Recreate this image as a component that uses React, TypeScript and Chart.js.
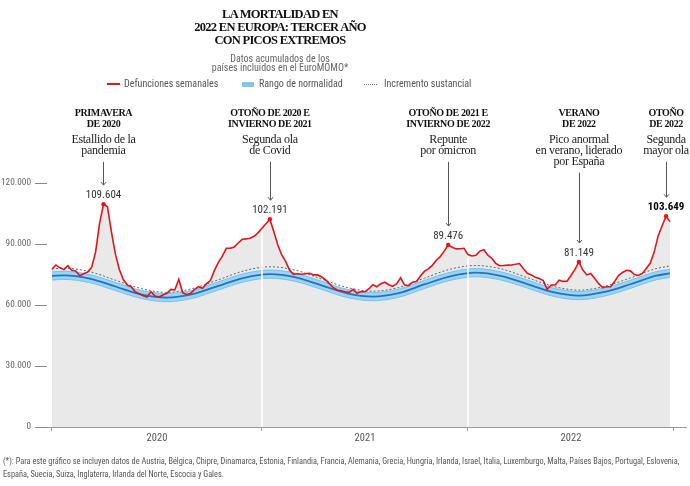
import React, { useEffect, useRef } from 'react';
import { Chart, registerables } from 'chart.js';

Chart.register(...registerables);

// ---------- DATA ----------
const weeklyDeaths = [
  77700, 79700, 78300, 77400, 79300, 77100, 76700, 74400, 75400, 76200,
  78500, 86000, 100000, 109604, 108300, 96000, 85000, 77500, 72500, 69800,
  69000, 66500, 65500, 64500, 63900, 66500, 64400, 63900, 64900, 65700,
  67700, 67400, 72600, 66000, 65200, 65700, 67700, 69000, 68200, 70500,
  72000, 77000, 81000, 84000, 87900, 87900, 88500, 90500, 92300, 92500,
  92800, 93800, 95500, 97700, 100000, 102191, 96000, 89500, 84600, 81300,
  77000, 75100, 75400, 75100, 75400, 75600, 74800, 74800, 73900, 72500,
  70500, 68500, 67400, 67000, 66500, 66200, 67700, 65700, 66600, 66500,
  68000, 70000, 69000, 70500, 71200, 70000, 69200, 70500, 73400, 69800,
  69500, 71200, 71600, 74300, 76500, 77800, 79500, 82000, 83800, 86500,
  89476, 88400, 87600, 87700, 87900, 84800, 84100, 84500, 86500, 87200,
  84500, 83000, 80500, 79300, 79400, 79600, 79700, 80000, 80400, 77800,
  75600, 74800, 73600, 73000, 72000, 67700, 69800, 69800, 72200, 71600,
  71700, 74500, 77500, 81149, 77200, 74800, 75500, 73000, 70500, 68500,
  69000, 69000, 71500, 74500, 76000, 77100, 76800, 75000, 74500, 75500,
  78000, 80500, 86000, 94000, 99000, 103649, 101000,
];

const baselineWeeks = [0, 3, 9.5, 16, 22.5, 29, 35.5, 42, 48.5, 55, 61.5, 68, 74.5, 81, 87.5, 94, 100.5, 107, 113.5, 120, 126.5, 133, 139.5, 146, 152.5, 156];
const baselineCenter = [74300, 74600, 73000, 69100, 65200, 63600, 65300, 69400, 73400, 75200, 73600, 69700, 65700, 64100, 65800, 70100, 74100, 75900, 74200, 70300, 66300, 64600, 66400, 70200, 74400, 75600];
const normalHigh = [76300, 76600, 75000, 71100, 67200, 65600, 67300, 71400, 75400, 77200, 75600, 71700, 67700, 66100, 67800, 72100, 76100, 77900, 76200, 72300, 68300, 66600, 68400, 72200, 76400, 77600];
const normalLow = [72300, 72600, 71000, 67100, 63200, 61600, 63300, 67400, 71400, 73200, 71600, 67700, 63700, 62100, 63800, 68100, 72100, 73900, 72200, 68300, 64300, 62600, 64400, 68200, 72400, 73600];
const substantialIncrease = [77700, 78100, 76400, 72200, 68100, 66200, 68100, 72400, 76800, 78800, 77100, 72800, 68600, 66800, 68600, 73200, 77600, 79400, 77700, 73400, 69200, 67300, 69200, 73300, 77900, 79200];

const yearBoundaries = [0, 53, 105, 157];
const yearLabels = ['2020', '2021', '2022'];
const yTickValues = [0, 30000, 60000, 90000, 120000];

const peakWeeks = [13, 55, 100, 133, 155];
const highlightPeak = 4;
const peakHeaders = [
  ['PRIMAVERA', 'DE 2020'],
  ['OTOÑO DE 2020 E', 'INVIERNO DE 2021'],
  ['OTOÑO DE 2021 E', 'INVIERNO DE 2022'],
  ['VERANO', 'DE 2022'],
  ['OTOÑO', 'DE 2022'],
];
const peakNotes = [
  ['Estallido de la', 'pandemia'],
  ['Segunda ola', 'de Covid'],
  ['Repunte', 'por ómicron'],
  ['Pico anormal', 'en verano, liderado', 'por España'],
  ['Segunda', 'mayor ola'],
];

const titleLines = ['LA MORTALIDAD EN', '2022 EN EUROPA: TERCER AÑO', 'CON PICOS EXTREMOS'];
const subtitleLines = ['Datos acumulados de los', 'países incluidos en el EuroMOMO*'];
const legendLabels = ['Defunciones semanales', 'Rango de normalidad', 'Incremento sustancial'];
const footnoteLines = [
  '(*): Para este gráfico se incluyen datos de Austria, Bélgica, Chipre, Dinamarca, Estonia, Finlandia, Francia, Alemania, Grecia, Hungría, Irlanda, Israel, Italia, Luxemburgo, Malta, Países Bajos, Portugal, Eslovenia,',
  'España, Suecia, Suiza, Inglaterra, Irlanda del Norte, Escocia y Gales.',
];

// ---------- STYLE ----------
const SANS = "'Roboto Condensed','Liberation Sans Narrow','Arial Narrow','DejaVu Sans Condensed',Roboto,sans-serif";
const SERIF = "'Liberation Serif','DejaVu Serif',serif";
const RED = '#e4141b';

const fmt = (v: number) => String(Math.round(v)).replace(/\B(?=(\d{3})+(?!\d))/g, '.');

const whiteLinesPlugin = {
  id: 'yearWhiteLines',
  beforeDatasetDraw(chart: any, args: any) {
    if (args.index !== 0) return;
    const { ctx, chartArea } = chart;
    const xs = chart.scales.x, ys = chart.scales.y;
    ctx.save();
    ctx.strokeStyle = '#ffffff';
    ctx.lineWidth = 1.5;
    yearBoundaries.slice(1, -1).forEach((b) => {
      const i0 = Math.floor(b);
      const i1 = Math.min(i0 + 1, weeklyDeaths.length - 1);
      const f = b - i0;
      const v = weeklyDeaths[i0] + (weeklyDeaths[i1] - weeklyDeaths[i0]) * f;
      const px = xs.getPixelForValue(b);
      ctx.beginPath();
      ctx.moveTo(px, chartArea.bottom);
      ctx.lineTo(px, ys.getPixelForValue(v));
      ctx.stroke();
    });
    ctx.restore();
  },
};

const labelsPlugin = {
  id: 'annotationsAndYears',
  afterDatasetsDraw(chart: any) {
    const { ctx, chartArea } = chart;
    const xs = chart.scales.x, ys = chart.scales.y;
    ctx.save();
    ctx.font = `10.5px ${SANS}`;
    ctx.fillStyle = '#555';
    ctx.textAlign = 'center';
    ctx.textBaseline = 'middle';
    yearLabels.forEach((t, i) => {
      const px = (xs.getPixelForValue(yearBoundaries[i]) + xs.getPixelForValue(yearBoundaries[i + 1])) / 2;
      ctx.fillText(t, px, chartArea.bottom + 11);
    });
    peakWeeks.forEach((w, k) => {
      const px = xs.getPixelForValue(w);
      const py = ys.getPixelForValue(weeklyDeaths[w]);
      ctx.textAlign = 'center';
      ctx.textBaseline = 'middle';
      ctx.fillStyle = '#111';
      ctx.font = `bold 10px ${SERIF}`;
      (ctx as any).letterSpacing = '-0.4px';
      peakHeaders[k].forEach((t, i) => ctx.fillText(t, px, 113 + i * 11));
      ctx.font = `12px ${SERIF}`;
      ctx.fillStyle = '#222';
      (ctx as any).letterSpacing = '-0.3px';
      peakNotes[k].forEach((t, i) => ctx.fillText(t, px, 140 + i * 10.8));
      (ctx as any).letterSpacing = '0px';
      const startY = 140 + (peakNotes[k].length - 1) * 10.8 + 11;
      const tipY = py - 19;
      const ax = Math.round(px) + 0.5;
      ctx.strokeStyle = '#555';
      ctx.lineWidth = 1;
      ctx.beginPath();
      ctx.moveTo(ax, startY);
      ctx.lineTo(ax, tipY);
      ctx.moveTo(ax - 2.5, tipY - 3);
      ctx.lineTo(ax, tipY);
      ctx.lineTo(ax + 2.5, tipY - 3);
      ctx.stroke();
      const bold = k === highlightPeak;
      ctx.font = `${bold ? 'bold ' : ''}11px ${SANS}`;
      ctx.fillStyle = bold ? '#000' : '#333';
      ctx.fillText(fmt(weeklyDeaths[w]), px, py - 9);
    });
    ctx.restore();
  },
};

export default function App() {
  const canvasRef = useRef<HTMLCanvasElement | null>(null);

  useEffect(() => {
    document.body.style.margin = '0';
    const canvas = canvasRef.current;
    if (!canvas) return;
    const redPoints = weeklyDeaths.map((v, i) => ({ x: i, y: v }));
    const smooth = (arr: number[]) => baselineWeeks.map((w, i) => ({ x: w, y: arr[i] }));
    const chart = new Chart(canvas, {
      type: 'line',
      data: {
        datasets: [
          {
            label: legendLabels[0],
            data: redPoints,
            borderColor: RED,
            borderWidth: 1.6,
            tension: 0,
            fill: false,
            pointRadius: weeklyDeaths.map((_, i) => (peakWeeks.includes(i) ? 2.2 : 0)),
            pointBackgroundColor: RED,
            pointBorderWidth: 0,
            order: 0,
          },
          {
            label: 'area',
            data: redPoints,
            borderWidth: 0,
            borderColor: 'rgba(0,0,0,0)',
            backgroundColor: '#e9e9e9',
            fill: 'origin',
            pointRadius: 0,
            tension: 0,
            order: 10,
          },
          {
            label: legendLabels[1],
            data: smooth(normalHigh),
            borderColor: '#72c3ed',
            borderWidth: 1,
            backgroundColor: '#9ad5f3',
            fill: '+1',
            pointRadius: 0,
            cubicInterpolationMode: 'monotone',
            order: 9,
          },
          {
            label: 'low',
            data: smooth(normalLow),
            borderColor: '#72c3ed',
            borderWidth: 1,
            fill: false,
            pointRadius: 0,
            cubicInterpolationMode: 'monotone',
            order: 8,
          },
          {
            label: 'center',
            data: smooth(baselineCenter),
            borderColor: '#2a6fc1',
            borderWidth: 1.8,
            fill: false,
            pointRadius: 0,
            cubicInterpolationMode: 'monotone',
            order: 7,
          },
          {
            label: legendLabels[2],
            data: smooth(substantialIncrease),
            borderColor: '#666',
            borderWidth: 1,
            borderDash: [2, 2],
            fill: false,
            pointRadius: 0,
            cubicInterpolationMode: 'monotone',
            order: 6,
          },
        ] as any,
      },
      options: {
        animation: false,
        responsive: false,
        maintainAspectRatio: false,
        events: [],
        layout: { padding: { top: 183, right: 4, left: 0, bottom: 0 } },
        plugins: { legend: { display: false }, tooltip: { enabled: false }, title: { display: false } },
        scales: {
          x: {
            type: 'linear',
            min: -1.26,
            max: 160.03,
            afterFit: (s: any) => { s.height = 59; },
            afterBuildTicks: (s: any) => { s.ticks = yearBoundaries.map((v) => ({ value: v })); },
            ticks: { display: false },
            grid: { display: true, drawOnChartArea: false, drawTicks: true, tickLength: 4, tickColor: '#999' },
            border: { display: true, color: '#999', width: 1 },
          },
          y: {
            min: 0,
            max: 120000,
            afterFit: (s: any) => { s.width = 47; },
            afterBuildTicks: (s: any) => { s.ticks = yTickValues.map((v) => ({ value: v })); },
            ticks: { callback: (v: any) => fmt(Number(v)), color: '#666', font: { family: SANS, size: 9.3 }, padding: 4 },
            grid: { display: true, drawOnChartArea: false, drawTicks: true, tickLength: 12, tickColor: '#888' },
            border: { display: false },
          },
        },
      } as any,
      plugins: [whiteLinesPlugin, labelsPlugin],
    });
    return () => chart.destroy();
  }, []);

  const textBase: React.CSSProperties = { position: 'absolute', whiteSpace: 'nowrap' };

  return (
    <div style={{ position: 'relative', width: 690, height: 486, overflow: 'hidden', background: '#fff' }}>
      <canvas ref={canvasRef} width={690} height={486} style={{ position: 'absolute', left: 0, top: 0, width: 690, height: 486 }} />
      <div style={{ ...textBase, left: 130, width: 300, top: 8, textAlign: 'center', fontFamily: SERIF, fontWeight: 'bold', fontSize: 12.5, lineHeight: '12.9px', letterSpacing: '-0.7px', color: '#111' }}>
        {titleLines.map((t) => <div key={t}>{t}</div>)}
      </div>
      <div style={{ ...textBase, left: 130, width: 300, top: 53.5, textAlign: 'center', fontFamily: SANS, fontSize: 10, lineHeight: '9px', color: '#666' }}>
        {subtitleLines.map((t) => <div key={t}>{t}</div>)}
      </div>
      <div style={{ position: 'absolute', left: 107, top: 83, width: 13, height: 2, background: RED }} />
      <div style={{ ...textBase, left: 124, top: 78, fontFamily: SANS, fontSize: 10, lineHeight: '12px', color: '#555' }}>{legendLabels[0]}</div>
      <div style={{ position: 'absolute', left: 242, top: 82, width: 12, height: 5, background: '#7fc7ee' }} />
      <div style={{ ...textBase, left: 259, top: 78, fontFamily: SANS, fontSize: 10, lineHeight: '12px', color: '#555' }}>{legendLabels[1]}</div>
      <div style={{ position: 'absolute', left: 364, top: 84, width: 13, height: 0, borderTop: '1px dotted #777' }} />
      <div style={{ ...textBase, left: 384, top: 78, fontFamily: SANS, fontSize: 10, lineHeight: '12px', color: '#555' }}>{legendLabels[2]}</div>
      <div style={{ ...textBase, left: 3, top: 455, fontFamily: SANS, fontSize: 8.3, lineHeight: '13px', color: '#555' }}>
        {footnoteLines.map((t) => <div key={t}>{t}</div>)}
      </div>
    </div>
  );
}
